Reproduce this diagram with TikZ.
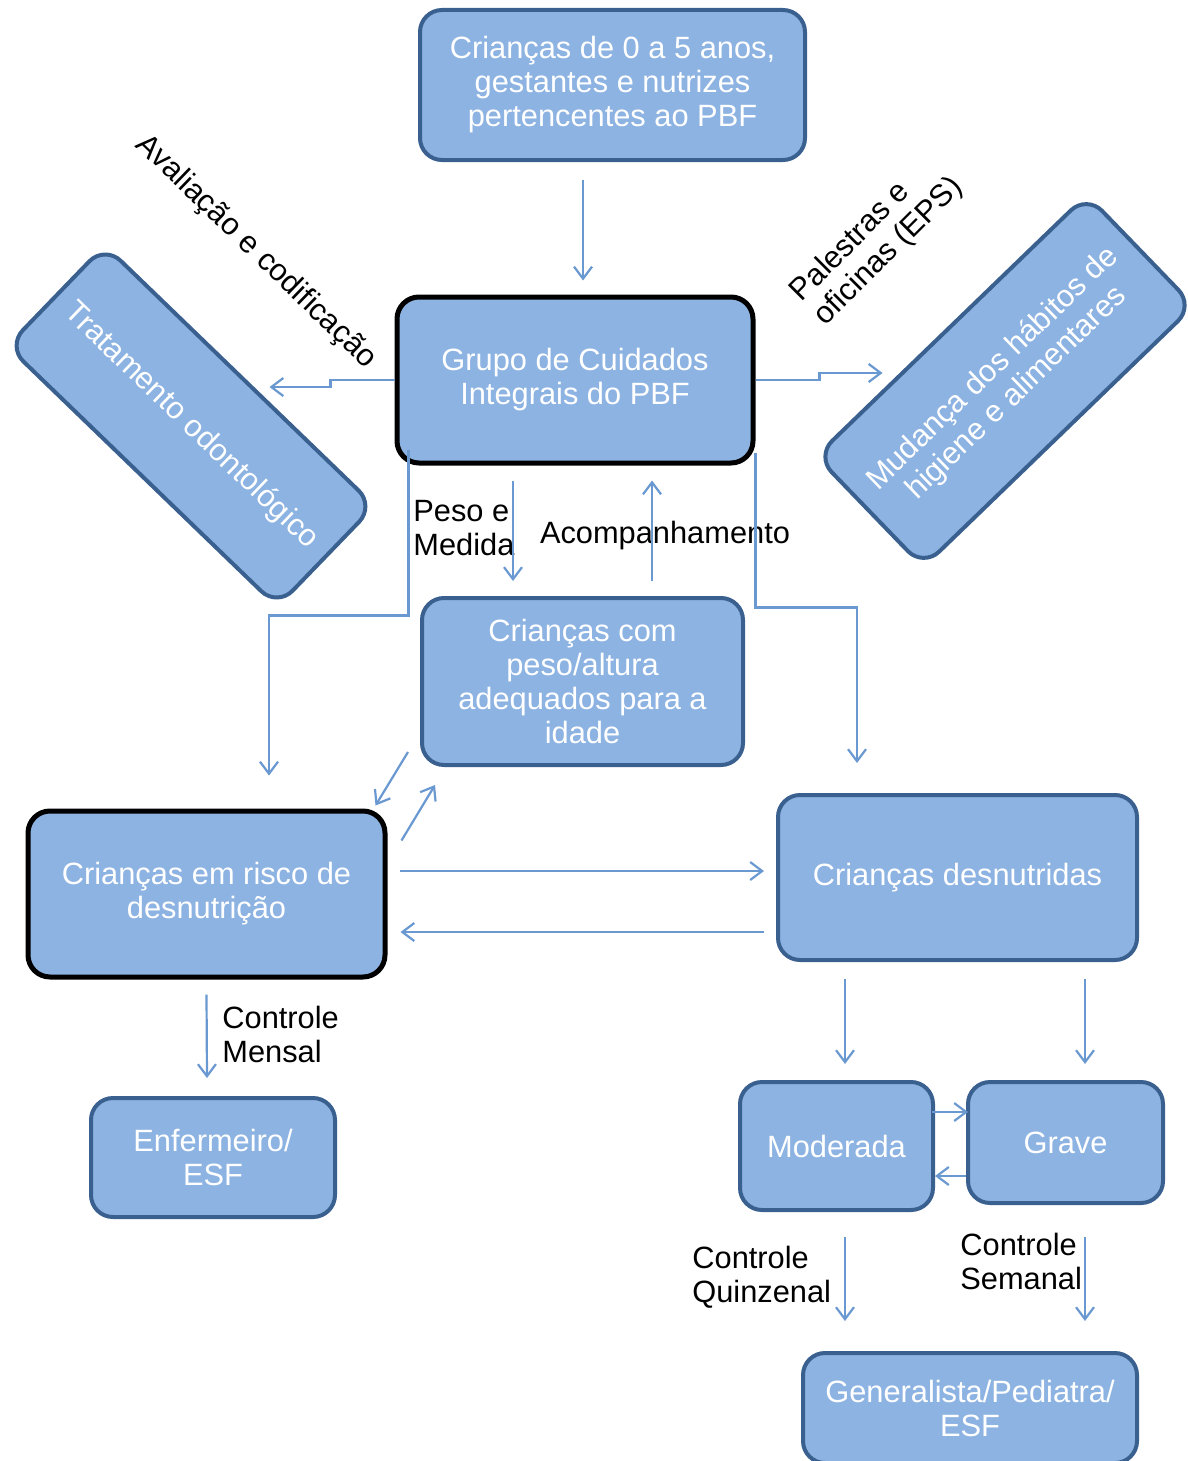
\documentclass[tikz,border=0pt]{standalone}
\usepackage{fontspec}
\setmainfont{Liberation Sans}
\usetikzlibrary{arrows.meta}
\definecolor{boxfill}{HTML}{8DB3E2}
\definecolor{boxline}{HTML}{3A6090}
\definecolor{arrcol}{HTML}{6A98D0}
\tikzset{
  box/.style={draw=boxline, line width=2pt, fill=boxfill, rounded corners=11pt,
    text=white, align=center, inner sep=2pt,
    font=\fontsize{15.4pt}{17pt}\selectfont},
  bbox/.style={box, draw=black, line width=2.5pt},
  lbl/.style={text=black, inner sep=0pt, font=\fontsize{15.4pt}{17pt}\selectfont},
  arr/.style={draw=arrcol, line width=1.1pt, -{Straight Barb[length=6pt,width=9pt,line width=1.1pt]}},
}
\begin{document}
\begin{tikzpicture}[x=0.5pt,y=-0.5pt]
\useasboundingbox (0,0) rectangle (1188,1461);

% nodes
\node[box, minimum width=192.5pt, minimum height=75pt] (top) at (612.5,85)
  {Crianças de 0 a 5 anos,\\gestantes e nutrizes\\pertencentes ao PBF};
\node[bbox, minimum width=178pt, minimum height=83pt] (grupo) at (575,380)
  {Grupo de Cuidados\\Integrais do PBF};
\node[box, rotate=-44, minimum width=187.5pt, minimum height=70pt] (trat) at (191,426)
  {Tratamento odontológico};
\node[box, rotate=44, minimum width=188pt, minimum height=77pt] (mud) at (1005,381)
  {Mudança dos hábitos de\\higiene e alimentares};
\node[box, minimum width=160.5pt, minimum height=83.5pt] (com) at (582.5,681.5)
  {Crianças com\\peso/altura\\adequados para a\\idade};
\node[bbox, minimum width=178.5pt, minimum height=83pt] (risco) at (206.5,894)
  {Crianças em risco de\\desnutrição};
\node[box, minimum width=179.5pt, minimum height=82.5pt] (desn) at (957.5,877.5)
  {Crianças desnutridas};
\node[box, minimum width=122pt, minimum height=59.5pt] (enf) at (213,1157.5)
  {Enfermeiro/\\ESF};
\node[box, minimum width=96.5pt, minimum height=64pt] (mod) at (836.5,1146)
  {Moderada};
\node[box, minimum width=97.5pt, minimum height=60.5pt] (grave) at (1065.5,1142.5)
  {Grave};
\node[box, minimum width=167pt, minimum height=55pt] (gen) at (970,1408)
  {Generalista/Pediatra/\\ESF};

% labels
\node[lbl, rotate=-44] (aval) at (256,252) {Avaliação e codificação};
\node[lbl, rotate=45, align=left] (pal) at (877,240) {Palestras e\\oficinas (EPS)};
\node[lbl, anchor=west, align=left] (peso) at (413,528) {Peso e\\Medida};
\node[lbl] (acomp) at (665,536) {Acompanhamento};
\node[lbl, anchor=west, align=left] (mensal) at (222,1034) {Controle\\Mensal};
\node[lbl, anchor=west, align=left] (quinz) at (692,1277) {Controle\\Quinzenal};
\node[lbl, anchor=west, align=left] (sem) at (960,1261) {Controle\\Semanal};

% connectors
\draw[arr] ([xshift=-14.75pt,yshift=-9pt]top.south) -- ([xshift=4pt,yshift=7pt]grupo.north);
\draw[arr] (grupo.west) -- ++(-32pt,0) -- ++(0,-3.5pt) -- ++(-30.5pt,0);
\draw[arr] (grupo.east) -- ++(32pt,0) -- ++(0,3.5pt) -- ++(31.5pt,0);
\draw[arr] ([xshift=-31pt,yshift=-7.5pt]grupo.south) -- ([xshift=-34.75pt,yshift=7.5pt]com.north);
\draw[arr] ([xshift=34.75pt,yshift=7.5pt]com.north) -- ([xshift=38.5pt,yshift=-7.5pt]grupo.south);
\draw[arr] ([xshift=7pt,yshift=8pt]grupo.south west) -- ++(0,-83pt) -| ([xshift=31.25pt,yshift=16.5pt]risco.north);
\draw[arr] ([yshift=6.5pt]grupo.south east) -- ++(0,-77.5pt) -| ([xshift=-50.25pt,yshift=15pt]desn.north);
\draw[arr] ([xshift=-6pt,yshift=7.5pt]com.south west) -- ([xshift=-6pt,yshift=1.5pt]risco.north east);
\draw[arr] ([xshift=7pt,yshift=-16pt]risco.north east) -- ([xshift=7.5pt,yshift=-9pt]com.south west);
\draw[arr] ([xshift=6pt,yshift=11.5pt]risco.east) -- ([xshift=-6pt,yshift=3.25pt]desn.west);
\draw[arr] ([xshift=-6pt,yshift=-27.25pt]desn.west) -- ([xshift=6.5pt,yshift=-19pt]risco.east);
\draw[arr] ([yshift=-7.5pt]risco.south) -- ([xshift=-3pt,yshift=9pt]enf.north);
\draw[arr] ([xshift=-56.25pt,yshift=-8.5pt]desn.south) -- ([xshift=4.25pt,yshift=8pt]mod.north);
\draw[arr] ([xshift=63.75pt,yshift=-8.5pt]desn.south) -- ([xshift=9.75pt,yshift=8pt]grave.north);
\draw[arr] ([xshift=-1.5pt,yshift=17pt]mod.east) -- ([xshift=1pt,yshift=15.25pt]grave.west);
\draw[arr] ([yshift=-16.75pt]grave.west) -- ([yshift=-15pt]mod.east);
\draw[arr] ([xshift=4.25pt,yshift=-12.5pt]mod.south) -- ([xshift=-62.5pt,yshift=15pt]gen.north);
\draw[arr] ([xshift=9.75pt,yshift=-16pt]grave.south) -- ([xshift=57.5pt,yshift=15pt]gen.north);
\end{tikzpicture}
\end{document}
